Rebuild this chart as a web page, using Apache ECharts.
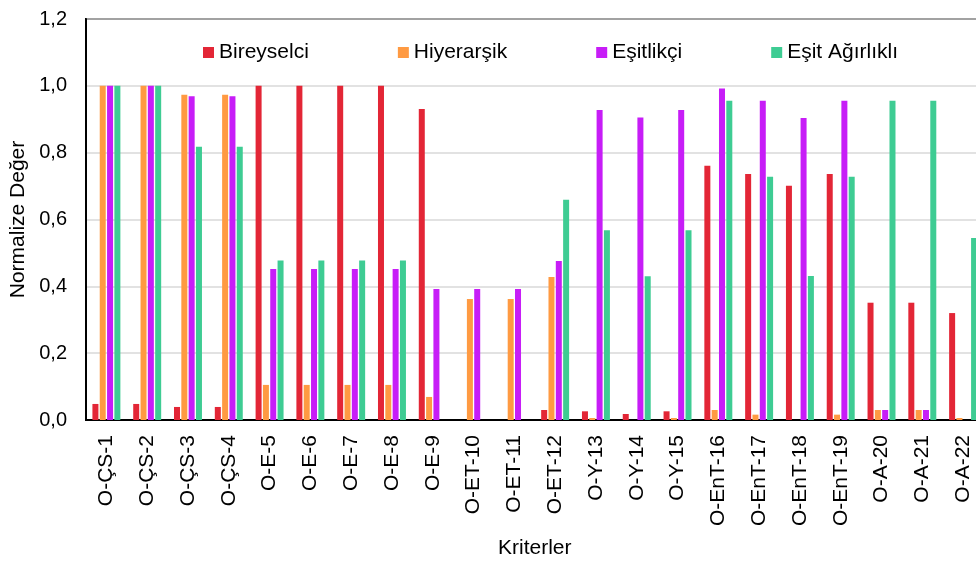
<!DOCTYPE html>
<html>
<head>
<meta charset="utf-8">
<script src="https://cdn.jsdelivr.net/npm/echarts@6/dist/echarts.min.js"></script>
<style>
html,body{margin:0;padding:0;background:#fff;}
#chart{width:976px;height:561px;}
</style>
</head>
<body>
<div id="chart"></div>
<script>
var categories = ['O-ÇS-1','O-ÇS-2','O-ÇS-3','O-ÇS-4','O-E-5','O-E-6','O-E-7','O-E-8','O-E-9','O-ET-10','O-ET-11','O-ET-12','O-Y-13','O-Y-14','O-Y-15','O-EnT-16','O-EnT-17','O-EnT-18','O-EnT-19','O-A-20','O-A-21','O-A-22'];
var seriesNames = ['Bireyselci','Hiyerarşik','Eşitlikçi','Eşit Ağırlıklı'];
var bireyselci = [0.048,0.048,0.039,0.039,1,1,1,1,0.931,0,0,0.030,0.026,0.018,0.026,0.761,0.736,0.701,0.736,0.351,0.351,0.320];
var hiyerarsik = [1,1,0.973,0.973,0.105,0.105,0.105,0.105,0.069,0.362,0.362,0.428,0.006,0,0.006,0.030,0.016,0,0.016,0.030,0.030,0.006];
var esitlikci = [1,1,0.969,0.969,0.452,0.452,0.452,0.452,0.392,0.392,0.392,0.476,0.928,0.905,0.928,0.992,0.955,0.904,0.955,0.030,0.030,0];
var esitAgirlikli = [1,1,0.818,0.818,0.477,0.477,0.477,0.477,0,0,0,0.659,0.568,0.430,0.568,0.955,0.728,0.431,0.728,0.955,0.955,0.545];
var yTicks = [0,0.2,0.4,0.6,0.8,1.0,1.2];

var colors = ['#E32636','#FF9A42','#C71DF7','#3ECC93'];
var allData = [bireyselci, hiyerarsik, esitlikci, esitAgirlikli];
var FONT = "'Liberation Sans', Arial, sans-serif";

var chart = echarts.init(document.getElementById('chart'), null, {renderer:'canvas'});
var series = seriesNames.map(function(n,i){
  return {
    name:n, type:'bar', data: allData[i],
    barWidth:6, barGap:'22%',
    itemStyle:{color:colors[i]},
    animation:false
  };
});
chart.setOption({
  animation:false,
  backgroundColor:'#fff',
  color: colors,
  textStyle:{fontFamily:FONT},
  grid:{left:86, right:-7.5, top:19, bottom:141, show:true, borderColor:'#000', borderWidth:2, backgroundColor:'transparent', outerBoundsMode:'none', containLabel:false},
  legend:{
    data: seriesNames,
    left:198, top:37,
    icon:'rect', itemWidth:11, itemHeight:11, itemGap:89,
    textStyle:{fontSize:21, color:'#000', fontFamily:FONT}
  },
  xAxis:{
    type:'category', data:categories,
    axisLine:{show:true, lineStyle:{color:'#000', width:2}},
    axisTick:{show:false},
    axisLabel:{rotate:90, fontSize:21, color:'#000', margin:15, interval:0, fontFamily:FONT},
    name:'Kriterler', nameLocation:'middle', nameGap:118,
    nameTextStyle:{fontSize:21, color:'#000', fontFamily:FONT}
  },
  yAxis:{
    type:'value', min:0, max:1.2, interval:0.2,
    axisLine:{show:true, lineStyle:{color:'#000', width:2}},
    axisTick:{show:false},
    splitLine:{show:true, lineStyle:{color:'#d9d9d9', width:1.5}},
    axisLabel:{fontSize:20, color:'#000', margin:19, fontFamily:FONT,
      formatter:function(v){ return v.toFixed(1).replace('.',','); }},
    name:'Normalize Değer', nameLocation:'middle', nameGap:55, nameRotate:90,
    nameTextStyle:{fontSize:21, color:'#000', fontFamily:FONT}
  },
  series: series
});
</script>
</body>
</html>
